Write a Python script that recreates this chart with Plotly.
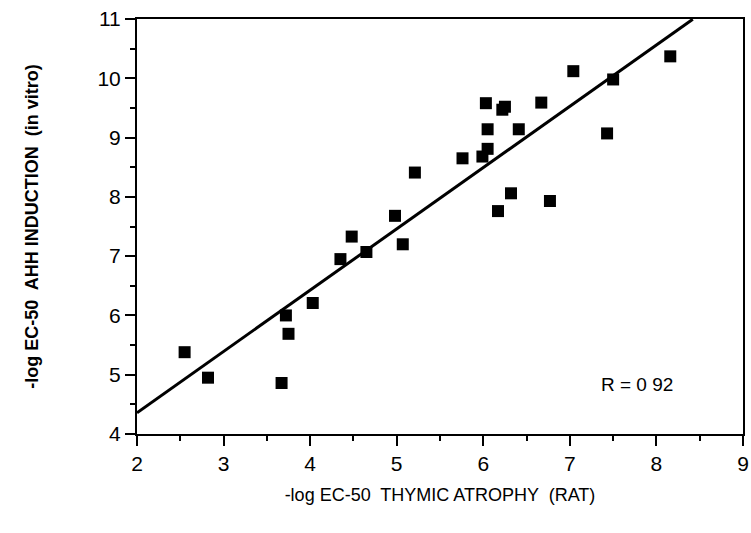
import plotly.graph_objects as go

# Data
thymic_atrophy = [2.55, 2.82, 3.67, 3.72, 3.75, 4.03, 4.35, 4.48, 4.65, 4.98,
                  5.07, 5.21, 5.76, 5.99, 6.03, 6.05, 6.05, 6.17, 6.22, 6.25,
                  6.32, 6.41, 6.67, 6.77, 7.04, 7.43, 7.50, 8.16]
ahh_induction = [5.38, 4.95, 4.86, 6.00, 5.69, 6.21, 6.95, 7.33, 7.07, 7.68,
                 7.20, 8.41, 8.65, 8.68, 9.58, 9.14, 8.81, 7.76, 9.47, 9.52,
                 8.06, 9.14, 9.59, 7.93, 10.12, 9.07, 9.98, 10.37]

fit_slope = 1.034
fit_intercept = 2.29
fit_x = [2.0, 8.42]
fit_y = [fit_intercept + fit_slope * v for v in fit_x]

x_ticks = [2, 3, 4, 5, 6, 7, 8, 9]
y_ticks = [4, 5, 6, 7, 8, 9, 10, 11]
y_ticktext = ["4", "5", "6", "7", "8", "9", "10", "11"]

r_label = "R = 0 92"
x_title = "-log EC-50  THYMIC ATROPHY  (RAT)"
y_title = "-log EC-50  AHH INDUCTION  (in vitro)"

FONT = "Liberation Sans, Arial, sans-serif"

fig = go.Figure()
fig.add_trace(go.Scatter(x=fit_x, y=fit_y, mode="lines",
                         line=dict(color="black", width=3),
                         hoverinfo="skip", showlegend=False, cliponaxis=True))
fig.add_trace(go.Scatter(x=thymic_atrophy, y=ahh_induction, mode="markers",
                         marker=dict(symbol="square", size=12, color="black"),
                         showlegend=False))

fig.add_annotation(x=7.77, y=4.83, text=r_label, showarrow=False,
                   font=dict(family=FONT, size=19, color="black"))

axis_common = dict(showgrid=False, zeroline=False, showline=True, linecolor="black",
                   linewidth=2, mirror=True, ticks="outside", ticklen=10,
                   tickwidth=2, tickcolor="black",
                   minor=dict(ticks="outside", ticklen=5, tickwidth=1.5,
                              tickcolor="black", dtick=0.5, showgrid=False),
                   tickfont=dict(family=FONT, size=21, color="black"))

fig.update_xaxes(range=[2, 9], tickvals=x_ticks, **axis_common,
                 title=dict(text=x_title, standoff=14,
                            font=dict(family=FONT, size=18, color="black")))
fig.update_yaxes(range=[4, 11], tickvals=y_ticks, ticktext=y_ticktext, **axis_common,
                 title=dict(text="<b>" + y_title + "</b>", standoff=54,
                            font=dict(family=FONT, size=18, color="black")))

fig.update_layout(width=751, height=533, plot_bgcolor="white", paper_bgcolor="white",
                  margin=dict(l=137, r=8, t=19, b=99, autoexpand=False))

fig.write_html("out.html", config={"displayModeBar": False},
               post_script="document.body.style.margin='0';document.body.style.overflow='hidden';")
